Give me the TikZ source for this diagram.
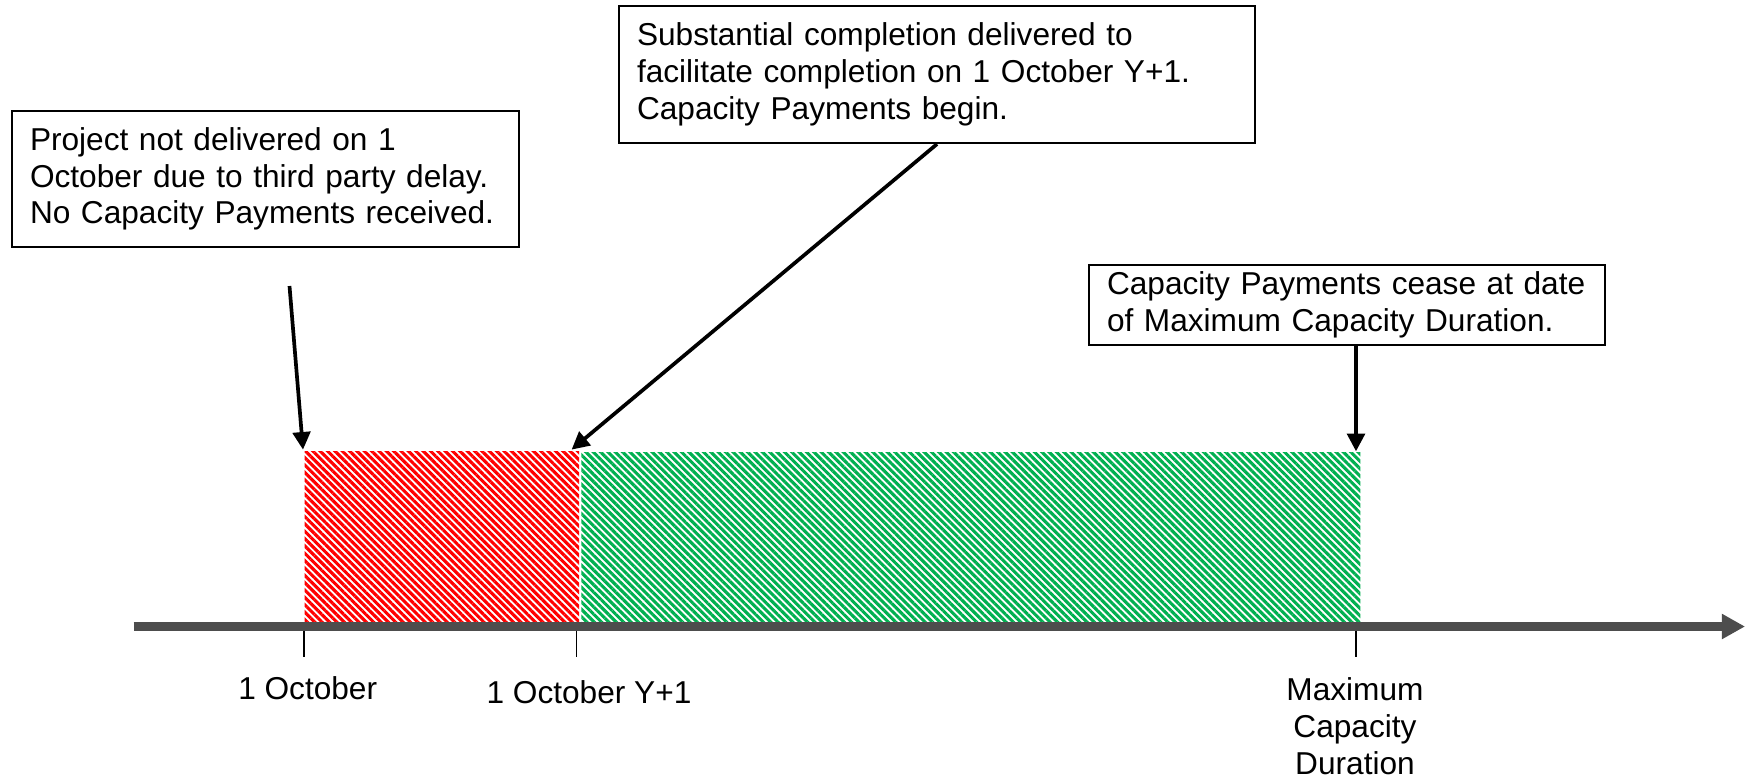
\documentclass[tikz,border=0pt]{standalone}
\usepackage{fontspec}
\setmainfont{Liberation Sans}
\usetikzlibrary{arrows.meta,patterns.meta}
\definecolor{axisgray}{HTML}{4D4D4D}
\definecolor{paygreen}{HTML}{00B050}

\begin{document}
\begin{tikzpicture}[>={Triangle[length=5pt,width=5pt]},
  note/.style={draw,line width=0.6pt,align=left,inner xsep=0.18cm,inner ysep=0pt,font=\fontsize{9}{10.45}\selectfont},
  bar/.style={anchor=south west,inner sep=0pt,minimum height=1.70cm,pattern={Lines[angle=-45,distance=0.052cm,line width=0.031cm]}},
  lbl/.style={font=\fontsize{9}{10.45}\selectfont,align=center},
  pointer/.style={->,line width=1.05pt}]
\useasboundingbox[fill=white] (0,0) rectangle (17.46,7.78);
\node[bar,minimum width=2.745cm,pattern color=red] (delay) at (3.03,1.553) {};
\node[bar,minimum width=7.79cm,pattern color=paygreen] (pay) at (delay.south east) {};
\coordinate (axstart) at (1.336,1.515);
\coordinate (axend) at (17.45,1.515);
\draw[axisgray,line width=2.3pt,-{Triangle[length=6.6pt,width=6.8pt]}] (axstart) -- (axend);
\foreach \x in {3.04,5.765,13.56}
  \draw[line width=0.45pt] (\x,1.473) -- (\x,1.21);
\node[lbl] (d1) at (3.077,0.895) {1 October};
\node[lbl] (d2) at (5.89,0.855) {1 October Y+1};
\node[lbl] (d3) at (13.55,0.52) {Maximum\\Capacity\\Duration};
\node[note,text width=4.71cm,minimum height=1.36cm] (late) at (2.655,5.99) {Project not delivered on 1\\October due to third party delay.\\No Capacity Payments received.};
\node[note,text width=6.00cm,minimum height=1.37cm] (window) at (9.37,7.035) {Substantial completion delivered to\\facilitate completion on 1 October Y+1.\\Capacity Payments begin.};
\node[note,text width=4.80cm,minimum height=0.80cm] (cease) at (13.47,4.73) {Capacity Payments cease at date\\of Maximum Capacity Duration.};
\coordinate (s1) at (2.895,4.92);
\coordinate (e3) at ([xshift=-0.05cm]pay.north east);
\draw[pointer] (s1) -- (delay.north west);
\draw[pointer] (window.south) -- ([xshift=-0.09cm]delay.north east);
\draw[pointer] (cease.south -| e3) -- (e3);
\end{tikzpicture}
\end{document}
